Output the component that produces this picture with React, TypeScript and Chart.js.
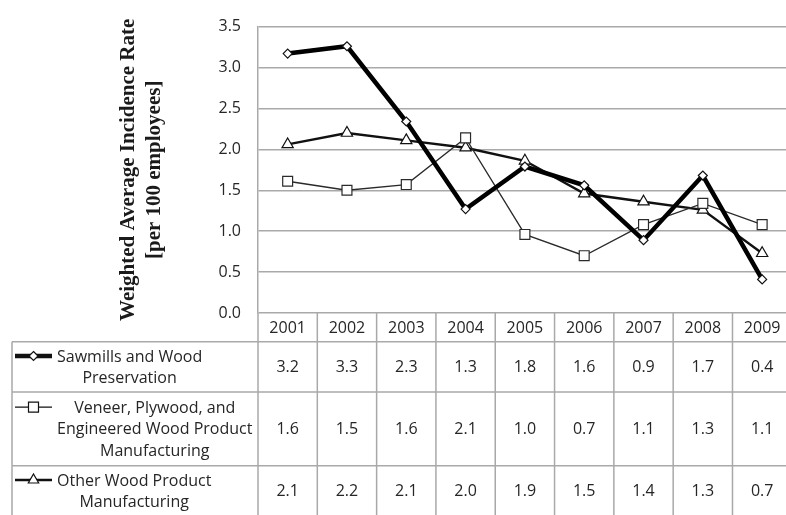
import React, { useEffect, useRef } from "react";
import { Chart, registerables } from "chart.js";

Chart.register(...registerables);

// Survey years (x categories)
const years = ["2001", "2002", "2003", "2004", "2005", "2006", "2007", "2008", "2009"];

// Weighted average incidence rate per 100 employees, by industry
const sawmills = [3.17, 3.26, 2.34, 1.27, 1.79, 1.56, 0.89, 1.68, 0.41];
const veneer = [1.61, 1.5, 1.57, 2.14, 0.96, 0.7, 1.08, 1.34, 1.08];
const otherWood = [2.06, 2.2, 2.11, 2.02, 1.86, 1.46, 1.36, 1.26, 0.73];

// Legend text, wrapped the way the data table shows it
const sawmillsName = ["Sawmills and Wood", "Preservation"];
const veneerName = ["Veneer, Plywood, and", "Engineered Wood Product", "Manufacturing"];
const otherName = ["Other Wood Product", "Manufacturing"];

// Y axis range and step
const yMin = 0;
const yMax = 3.5;
const yStep = 0.5;

const yTitle = ["Weighted Average Incidence Rate", "[per 100 employees]"];

const GRID = "#a9a9a9";
const INK = "#262626";
const TABLE_FONT = '16px "Open Sans"';

type Marker = "diamond" | "square" | "triangle";

function drawMarker(ctx: CanvasRenderingContext2D, kind: Marker, x: number, y: number) {
  ctx.beginPath();
  if (kind === "diamond") {
    const r = 4.5;
    ctx.moveTo(x, y - r);
    ctx.lineTo(x + r, y);
    ctx.lineTo(x, y + r);
    ctx.lineTo(x - r, y);
    ctx.closePath();
    ctx.lineWidth = 1.2;
  } else if (kind === "square") {
    const h = 5;
    ctx.rect(x - h, y - h, 2 * h, 2 * h);
    ctx.lineWidth = 1.2;
  } else {
    const r = 6;
    ctx.moveTo(x, y - r);
    ctx.lineTo(x + r * 0.866, y + r * 0.5);
    ctx.lineTo(x - r * 0.866, y + r * 0.5);
    ctx.closePath();
    ctx.lineWidth = 1.2;
  }
  ctx.fillStyle = "#fff";
  ctx.fill();
  ctx.strokeStyle = "#111";
  ctx.stroke();
}

// Excel-style data table under the plot: year header, one row per series
const dataTablePlugin = {
  id: "dataTable",
  afterDraw(chart: any) {
    const { ctx, chartArea } = chart;
    const xScale = chart.scales.x;
    const left = chartArea.left;
    const right = chartArea.right;
    const top = chartArea.bottom;
    const colW = (right - left) / years.length;
    const legendLeft = 12;
    const headerH = 28.7;
    const lineH = 21.6;

    const rows = [
      { name: sawmillsName, values: sawmills, marker: "diamond" as Marker, width: 4.5 },
      { name: veneerName, values: veneer, marker: "square" as Marker, width: 1.3 },
      { name: otherName, values: otherWood, marker: "triangle" as Marker, width: 2.4 },
    ];
    const rowHeights = rows.map((r) => r.name.length * lineH + (r.name.length > 2 ? 9 : 7));

    const headerBottom = top + headerH;
    const rowTops: number[] = [];
    let yy = headerBottom;
    rowHeights.forEach((h) => {
      rowTops.push(yy);
      yy += h;
    });
    const tableBottom = yy;

    ctx.save();
    ctx.strokeStyle = GRID;
    ctx.lineWidth = 1.5;

    // horizontal rules
    ctx.beginPath();
    ctx.moveTo(legendLeft, headerBottom);
    ctx.lineTo(right, headerBottom);
    rowTops.forEach((t, i) => {
      const b = t + rowHeights[i];
      ctx.moveTo(legendLeft, b);
      ctx.lineTo(right, b);
    });
    // vertical rules
    for (let i = 0; i <= years.length; i++) {
      const vx = left + i * colW;
      ctx.moveTo(vx, top);
      ctx.lineTo(vx, tableBottom);
    }
    ctx.moveTo(legendLeft, headerBottom);
    ctx.lineTo(legendLeft, tableBottom);
    ctx.stroke();

    ctx.font = TABLE_FONT;
    ctx.fillStyle = INK;
    ctx.textAlign = "center";
    ctx.textBaseline = "middle";

    // year header
    years.forEach((yr, i) => {
      ctx.fillText(yr, xScale.getPixelForValue(i), top + headerH / 2 + 1);
    });

    rows.forEach((row, r) => {
      const t = rowTops[r];
      const h = rowHeights[r];
      const mid = t + h / 2;

      // values
      row.values.forEach((v, i) => {
        ctx.fillStyle = INK;
        ctx.fillText(v.toFixed(1), xScale.getPixelForValue(i), mid + 1);
      });

      // legend text block, lines centred on each other
      const n = row.name.length;
      const firstY = mid - ((n - 1) * lineH) / 2;
      const blockLeft = 57;
      const blockW = Math.max(...row.name.map((s) => ctx.measureText(s).width));
      row.name.forEach((s, k) => {
        ctx.fillStyle = INK;
        ctx.fillText(s, blockLeft + blockW / 2, firstY + k * lineH + 1);
      });

      // legend key: line sample plus marker
      ctx.beginPath();
      ctx.strokeStyle = "#111";
      ctx.lineWidth = row.width;
      ctx.moveTo(15, firstY);
      ctx.lineTo(52, firstY);
      ctx.stroke();
      drawMarker(ctx, row.marker, 33.5, firstY);
    });

    ctx.restore();
  },
};

export default function App() {
  const canvasRef = useRef<HTMLCanvasElement | null>(null);

  useEffect(() => {
    const canvas = canvasRef.current;
    if (!canvas) return;
    const chart = new Chart(canvas, {
      type: "line",
      data: {
        labels: years,
        datasets: [
          {
            label: sawmillsName.join(" "),
            data: sawmills,
            borderColor: "#000",
            borderWidth: 4.5,
            tension: 0,
            pointStyle: "rectRot",
            pointRadius: 4.5,
            pointBackgroundColor: "#fff",
            pointBorderColor: "#111",
            pointBorderWidth: 1.2,
          },
          {
            label: veneerName.join(" "),
            data: veneer,
            borderColor: "#2a2a2a",
            borderWidth: 1.3,
            tension: 0,
            pointStyle: "rect",
            pointRadius: 7,
            pointBackgroundColor: "#fff",
            pointBorderColor: "#2a2a2a",
            pointBorderWidth: 1.2,
          },
          {
            label: otherName.join(" "),
            data: otherWood,
            borderColor: "#111",
            borderWidth: 2.4,
            tension: 0,
            pointStyle: "triangle",
            pointRadius: 6.5,
            pointBackgroundColor: "#fff",
            pointBorderColor: "#111",
            pointBorderWidth: 1.2,
          },
        ],
      },
      options: {
        animation: false,
        responsive: false,
        devicePixelRatio: 1,
        layout: { padding: { top: 20, right: 4, bottom: 202, left: 0 } },
        plugins: {
          legend: { display: false },
          tooltip: { enabled: false },
        },
        scales: {
          x: {
            type: "category",
            offset: true,
            display: false,
            grid: { display: false },
          },
          y: {
            min: yMin,
            max: yMax,
            ticks: {
              stepSize: yStep,
              callback: (v: any) => Number(v).toFixed(1),
              font: { family: '"Open Sans"', size: 16 },
              color: INK,
              padding: 17,
            },
            grid: { color: GRID, lineWidth: 1.5, drawTicks: false },
            border: { display: true, color: GRID, width: 1.5 },
            title: {
              display: true,
              text: yTitle,
              color: "#1a1a1a",
              font: { family: '"Liberation Serif"', size: 21, weight: "bold", lineHeight: 1.25 },
              padding: { top: 115, bottom: 0 },
            },
            afterFit: (scale: any) => {
              scale.width = 258;
            },
          },
        },
      },
      plugins: [dataTablePlugin],
    });
    return () => chart.destroy();
  }, []);

  return (
    <div
      style={{
        position: "fixed",
        left: 0,
        top: 0,
        width: 786,
        height: 515,
        overflow: "hidden",
        background: "#fff",
      }}
    >
      <canvas ref={canvasRef} width={800} height={515} style={{ display: "block", width: 800, height: 515 }} />
    </div>
  );
}
